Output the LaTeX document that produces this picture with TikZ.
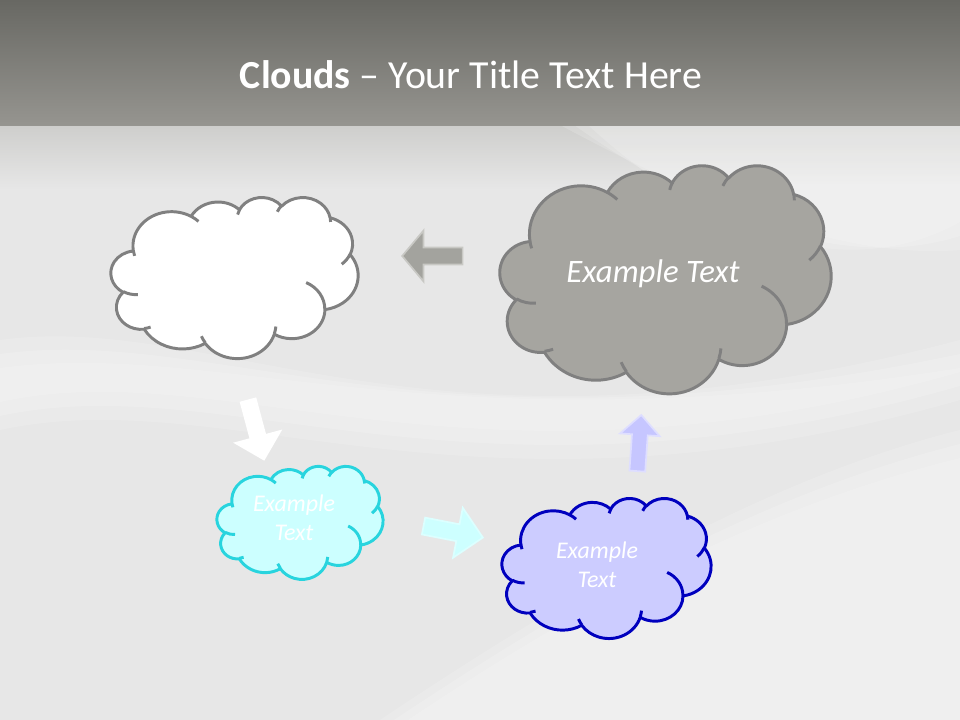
\documentclass[tikz,border=0pt]{standalone}
\usepackage{fontspec}
\setmainfont{Carlito}
\usetikzlibrary{shapes.arrows, positioning}

\definecolor{bandtop}{RGB}{104,104,99}
\definecolor{bandbot}{RGB}{150,149,144}
\definecolor{silk}{RGB}{231,231,231}
\definecolor{silkedge}{RGB}{206,206,204}
\definecolor{cloudline}{RGB}{128,128,128}
\definecolor{cloudgrey}{RGB}{166,165,160}
\definecolor{cyanline}{RGB}{40,212,222}
\definecolor{cyanfill}{RGB}{204,255,255}
\definecolor{blueline}{RGB}{0,0,190}
\definecolor{bluefill}{RGB}{204,204,255}
\definecolor{arrgrey}{RGB}{163,163,158}
\definecolor{arrgreyedge}{RGB}{200,200,196}
\definecolor{arrcyan}{RGB}{205,255,255}
\definecolor{arrblue}{RGB}{198,198,255}
\definecolor{arrblueedge}{RGB}{222,222,255}

% angles of an office arcTo, turned into ellipse parameters
\newcommand\ooangles[4]{%
  \pgfmathparse{atan2((#1)*sin(#3),(#2)*cos(#3))}\xdef\ooTs{\pgfmathresult}%
  \pgfmathparse{atan2((#1)*sin((#3)+(#4)),(#2)*cos((#3)+(#4)))}\xdef\ooTm{\pgfmathresult}%
  \pgfmathparse{\ooTm+360*round((\ooTs+(#4)-(\ooTm))/360)}\xdef\ooTe{\pgfmathresult}}

\tikzset{
  ooarc/.style args={#1/#2/#3/#4}{insert path={\pgfextra{\ooangles{#1}{#2}{#3}{#4}}
      arc[start angle=\ooTs, end angle=\ooTe, x radius=#1, y radius=#2]}},
  cloudwhite/.style={draw=cloudline, fill=white, line width=2.1pt, line join=round},
  cloudgrey/.style={draw=cloudline, fill=cloudgrey, line width=2.1pt, line join=round},
  cloudcyan/.style={draw=cyanline, fill=cyanfill, line width=2.1pt, line join=round},
  cloudblue/.style={draw=blueline, fill=bluefill, line width=2.1pt, line join=round},
  ctext/.style={text=white, font=\itshape\fontsize{17}{21}\selectfont, align=center},
  titletext/.style={text=white, font=\fontsize{28.3}{34}\selectfont},
  barrow/.style={single arrow, inner xsep=0pt, inner ysep=5.5pt, minimum width=0pt,
                 minimum height=43pt, single arrow head extend=12pt, line width=1.2pt},
  sheen/.style={white, opacity=0.16}
}

% cloud: style, left, top, width, height (pixels)
\newcommand\pptcloud[5]{%
  \pgfmathsetmacro\ooxu{#4*0.711319/432}%
  \pgfmathsetmacro\ooyu{-#5*0.711319/432}%
  \begin{scope}[shift={(#2,#3)}, x=\ooxu pt, y=\ooyu pt]
    \path[#1] (39.00,143.70) [ooarc=67.53/91.90/-190.4875/123.7805]
      [ooarc=53.33/72.67/-144.1024/89.9452] [ooarc=43.65/59.45/-145.8079/99.7230]
      [ooarc=48.57/65.95/-130.9861/117.2417] [ooarc=53.33/72.73/-78.7089/109.0269]
      [ooarc=67.75/92.20/-46.2673/130.2690] [ooarc=57.85/78.67/0.6250/114.0333]
      [ooarc=67.52/92.15/22.4516/115.1726] [ooarc=77.20/105.43/66.2426/75.7110]
      [ooarc=43.60/59.18/-274.9421/146.7356] [ooarc=43.45/59.45/-246.8285/152.5189] -- cycle;
    \path[#1, fill=none]
      (46.93,261.77) [ooarc=43.45/59.45/86.7420/26.4295]
      (69.28,348.99) [ooarc=43.60/59.18/73.6105/11.4475]
      (164.78,390.90) [ooarc=67.52/92.15/137.6242/14.0811]
      (288.27,347.51) [ooarc=67.52/92.15/6.4533/15.9984]
      (341.29,229.54) [ooarc=57.85/78.67/-70.2924/70.9174]
      (417.98,153.54) [ooarc=53.33/72.73/30.3180/27.7515]
      (383.24,54.26) [ooarc=48.57/65.95/-13.7443/14.8589]
      (290.78,39.52) [ooarc=48.57/65.95/-149.1815/18.1954]
      (221.41,47.20) [ooarc=43.65/59.45/-163.4943/17.6864]
      (140.00,51.92) [ooarc=67.53/91.90/-66.7070/12.3194]
      (41.27,157.89) [ooarc=67.53/91.90/157.6544/11.8582];
  \end{scope}}

\begin{document}
\begin{tikzpicture}[x=0.025cm, y=-0.025cm]
  \useasboundingbox (0,0) rectangle (960,720);
  % silk background
  \fill[silk] (0,125) rectangle (960,720);
  \shade[top color=silkedge, bottom color=silk] (0,125) rectangle (960,190);
  \foreach \d in {0,14,28} {
    \fill[sheen] (0,{340+\d}) .. controls (220,{310+\d}) and (430,{480-\d}) .. (960,{340+\d})
      -- (960,{400-\d}) .. controls (470,{540-\d}) and (230,{380-\d}) .. (0,{430-\d}) -- cycle;
    \fill[sheen] ({380+\d},720) .. controls ({560+\d},600) and (760,{480+\d}) .. (960,{430+\d})
      -- (960,720) -- cycle;
    \fill[sheen] ({560+\d},125) .. controls (700,{200+\d}) and (840,{260+\d}) .. (960,{250-\d})
      -- (960,125) -- cycle;
  }
  % title band
  \shade[top color=bandtop, bottom color=bandbot] (0,0) rectangle (960,126);
  \node[titletext] (title) at (471,75) {\textbf{Clouds} – Your Title Text Here};

  % clouds
  \pptcloud{cloudwhite}{111}{197}{247}{161}
  \pptcloud{cloudgrey}{500}{165}{331}{228}
  \pptcloud{cloudcyan}{217}{466}{166}{113}
  \pptcloud{cloudblue}{502}{498}{209}{140}
  \node[ctext, font=\itshape\fontsize{23.3}{28}\selectfont] (txtB) at (653,274) {Example Text};
  \node[ctext] (txtC) at (294,518) {Example\\Text};
  \node[ctext] (txtD) at (597,565) {Example\\Text};

  % block arrows
  \node[barrow, fill=arrgrey, draw=arrgreyedge, rotate=180, single arrow tip angle=100] (arrBA) at (436,256) {};
  \node[barrow, fill=white, rotate=-75, minimum height=45pt] (arrAC) at (255,426) {};
  \node[barrow, fill=arrcyan, draw=arrcyan!70!white, rotate=-11] (arrCD) at (449,531) {};
  \node[barrow, fill=arrblue, draw=arrblueedge, rotate=86, minimum height=40pt,
        inner ysep=5pt, single arrow head extend=8.5pt] (arrDB) at (639,447) {};
\end{tikzpicture}
\end{document}
